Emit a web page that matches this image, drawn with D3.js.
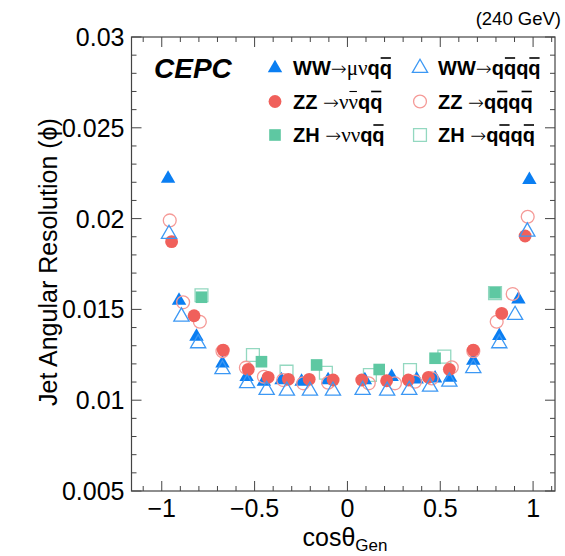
<!DOCTYPE html>
<html>
<head>
<meta charset="utf-8">
<script src="https://cdn.jsdelivr.net/npm/d3@7"></script>
<style>
  body { margin: 0; background: #fff; }
  text { font-family: "Liberation Sans", Arial, sans-serif; }
</style>
</head>
<body>
<div id="chart"></div>
<script>
"use strict";

// WW -> mu nu q qbar (filled triangles)
const wwMuX = [-0.966, -0.907, -0.813, -0.673, -0.543, -0.45, -0.355, -0.247, -0.104, 0.094, 0.238, 0.373, 0.472, 0.553, 0.678, 0.818, 0.921, 0.980];
const wwMuY = [0.0222, 0.01548, 0.0135, 0.01203, 0.01129, 0.01102, 0.01111, 0.01102, 0.01111, 0.01111, 0.01129, 0.01115, 0.0112, 0.01124, 0.01218, 0.01354, 0.01556, 0.02213];

// ZZ -> nu nubar q qbar (filled circles)
const zzNuX = [-0.947, -0.826, -0.669, -0.534, -0.427, -0.318, -0.206, -0.077, 0.077, 0.211, 0.328, 0.436, 0.549, 0.678, 0.831, 0.957];
const zzNuY = [0.01873, 0.01465, 0.01276, 0.0117, 0.01126, 0.01115, 0.01115, 0.01111, 0.01111, 0.01107, 0.01111, 0.01126, 0.0117, 0.01276, 0.01478, 0.01904];

// ZH -> nu nu q qbar (filled squares)
const zhNuX = [-0.786, -0.463, -0.166, 0.171, 0.472, 0.795];
const zhNuY = [0.01567, 0.01212, 0.01194, 0.01169, 0.01231, 0.01592];

// WW -> q qbar q qbar (open triangles)
const wwQqX = [-0.961, -0.894, -0.804, -0.673, -0.540, -0.435, -0.326, -0.202, -0.078, 0.082, 0.214, 0.333, 0.445, 0.549, 0.678, 0.818, 0.903, 0.969];
const wwQqY = [0.01915, 0.0146, 0.01313, 0.0117, 0.01093, 0.01056, 0.01052, 0.01052, 0.01052, 0.01056, 0.01052, 0.01056, 0.01074, 0.01102, 0.01176, 0.01313, 0.01469, 0.01928];

// ZZ -> q qbar q qbar (open circles)
const zzQqX = [-0.957, -0.885, -0.795, -0.673, -0.547, -0.45, -0.346, -0.238, -0.104, 0.115, 0.256, 0.364, 0.454, 0.562, 0.678, 0.804, 0.890, 0.971];
const zzQqY = [0.0199, 0.01539, 0.01432, 0.0127, 0.01179, 0.01129, 0.01111, 0.01093, 0.01096, 0.01093, 0.01093, 0.01102, 0.0112, 0.01181, 0.0127, 0.01432, 0.01585, 0.0201];

// ZH -> q qbar q qbar (open squares)
const zhQqX = [-0.786, -0.509, -0.328, -0.116, 0.121, 0.337, 0.522, 0.795];
const zhQqY = [0.01578, 0.01249, 0.01157, 0.01151, 0.01139, 0.01166, 0.0124, 0.0159];

const xTicks = [-1, -0.5, 0, 0.5, 1];
const xTickLabels = ["\u22121", "\u22120.5", "0", "0.5", "1"];
const yTicks = [0.005, 0.01, 0.015, 0.02, 0.025, 0.03];
const yTickLabels = ["0.005", "0.01", "0.015", "0.02", "0.025", "0.03"];

const width = 565, height = 556;
const frame = { left: 131.5, right: 555, top: 37, bottom: 491 };

const svg = d3.select("#chart").append("svg")
    .attr("width", width)
    .attr("height", height);

const x = d3.scaleLinear().domain([-1.163, 1.118]).range([frame.left, frame.right]);
const y = d3.scaleLinear().domain([0.005, 0.03]).range([frame.bottom, frame.top]);

const axisColor = "#444";

// frame
svg.append("rect")
    .attr("x", frame.left).attr("y", frame.top)
    .attr("width", frame.right - frame.left)
    .attr("height", frame.bottom - frame.top)
    .attr("fill", "none")
    .attr("stroke", axisColor)
    .attr("stroke-width", 1.2);

// ticks, all pointing inside the frame
const xMinor = d3.range(-11, 12).map(d => d / 10).filter(d => x(d) > frame.left && x(d) < frame.right);
const yMinor = d3.range(5, 31).map(d => d / 1000);

function tickLines(vals, isMajor) {
    const len = isMajor ? 10 : 5;
    vals.forEach(v => {
        const px = x(v);
        svg.append("line").attr("x1", px).attr("x2", px).attr("y1", frame.bottom).attr("y2", frame.bottom - len)
            .attr("stroke", axisColor);
        svg.append("line").attr("x1", px).attr("x2", px).attr("y1", frame.top).attr("y2", frame.top + len)
            .attr("stroke", axisColor);
    });
}
function tickLinesY(vals, isMajor) {
    const len = isMajor ? 10 : 5;
    vals.forEach(v => {
        const py = y(v);
        svg.append("line").attr("x1", frame.left).attr("x2", frame.left + len).attr("y1", py).attr("y2", py)
            .attr("stroke", axisColor);
        svg.append("line").attr("x1", frame.right).attr("x2", frame.right - len).attr("y1", py).attr("y2", py)
            .attr("stroke", axisColor);
    });
}
tickLines(xMinor.filter(d => !xTicks.includes(d)), false);
tickLines(xTicks, true);
tickLinesY(yMinor.filter(d => !yTicks.some(t => Math.abs(t - d) < 1e-9)), false);
tickLinesY(yTicks, true);

// tick labels
svg.append("g").selectAll("text")
    .data(xTicks)
    .enter().append("text")
    .attr("x", d => x(d))
    .attr("y", 517)
    .attr("text-anchor", "middle")
    .attr("font-size", 25)
    .text((d, i) => xTickLabels[i]);

svg.append("g").selectAll("text")
    .data(yTicks)
    .enter().append("text")
    .attr("x", frame.left - 7)
    .attr("y", d => y(d) + 9)
    .attr("text-anchor", "end")
    .attr("font-size", 25)
    .text((d, i) => yTickLabels[i]);

// axis titles
const xTitle = svg.append("text")
    .attr("x", 345)
    .attr("y", 546)
    .attr("text-anchor", "middle")
    .attr("font-size", 25);
xTitle.append("tspan").text("cos\u03b8");
xTitle.append("tspan").attr("font-size", 17).attr("dy", 5).text("Gen");

svg.append("text")
    .attr("transform", "translate(57,262) rotate(-90)")
    .attr("text-anchor", "middle")
    .attr("font-size", 25)
    .text("Jet Angular Resolution (\u03d5)");

svg.append("text")
    .attr("x", 561)
    .attr("y", 25)
    .attr("text-anchor", "end")
    .attr("font-size", 18.5)
    .text("(240 GeV)");

svg.append("text")
    .attr("x", 154)
    .attr("y", 78)
    .attr("font-size", 28)
    .attr("font-weight", "bold")
    .attr("font-style", "italic")
    .text("CEPC");

// series definitions, drawn in this order
const series = [
    { xs: zhQqX, ys: zhQqY, type: d3.symbolSquare, size: 165, fill: "none", stroke: "#93d8c0" },
    { xs: zhNuX, ys: zhNuY, type: d3.symbolSquare, size: 135, fill: "#5ec8a2", stroke: "none" },
    { xs: wwMuX, ys: wwMuY, type: d3.symbolTriangle, size: 90, fill: "#0a7ef2", stroke: "none" },
    { xs: zzQqX, ys: zzQqY, type: d3.symbolCircle, size: 130, fill: "none", stroke: "#f59a97" },
    { xs: zzNuX, ys: zzNuY, type: d3.symbolCircle, size: 130, fill: "#f0605b", stroke: "none" },
    { xs: wwQqX, ys: wwQqY, type: d3.symbolTriangle, size: 100, fill: "none", stroke: "#3c98f4" }
];

series.forEach(s => {
    svg.append("g").selectAll("path")
        .data(s.xs.map((v, i) => [v, s.ys[i]]))
        .enter().append("path")
        .attr("d", d3.symbol().type(s.type).size(s.size))
        .attr("transform", d => "translate(" + x(d[0]) + "," + y(d[1]) + ")")
        .attr("fill", s.fill)
        .attr("stroke", s.stroke)
        .attr("stroke-width", 1.3);
});

// legend: parts are [text, style] with b = bold, o = bold + bar, n = thin, on = thin + bar
const legendRows = [
    { mx: 275, my: 68, s: series[2], parts: [["WW", "b"], ["\u2192", "a"], ["\u03bc\u03bd", "n"], ["q", "b"], ["q", "o"]] },
    { mx: 420, my: 68, s: series[5], parts: [["WW", "b"], ["\u2192", "a"], ["q", "b"], ["q", "o"], ["q", "b"], ["q", "o"]] },
    { mx: 275, my: 101.5, s: series[4], parts: [["ZZ ", "b"], ["\u2192", "a"], ["\u03bd", "n"], ["\u03bd", "on"], ["q", "b"], ["q", "o"]] },
    { mx: 420, my: 101.5, s: series[3], parts: [["ZZ ", "b"], ["\u2192", "a"], ["q", "b"], ["q", "o"], ["q", "b"], ["q", "o"]] },
    { mx: 275, my: 135, s: series[1], parts: [["ZH ", "b"], ["\u2192", "a"], ["\u03bd\u03bd", "n"], ["q", "b"], ["q", "o"]] },
    { mx: 420, my: 135, s: series[0], parts: [["ZH ", "b"], ["\u2192", "a"], ["q", "b"], ["q", "o"], ["q", "b"], ["q", "o"]] }
];

legendRows.forEach(r => {
    svg.append("path")
        .attr("d", d3.symbol().type(r.s.type).size(r.s.size))
        .attr("transform", "translate(" + r.mx + "," + r.my + ")")
        .attr("fill", r.s.fill)
        .attr("stroke", r.s.stroke)
        .attr("stroke-width", 1.3);
    const baseY = r.my + 7;
    const t = svg.append("text")
        .attr("x", r.mx + 18)
        .attr("y", baseY)
        .attr("font-size", 20);
    let idx = 0;
    const bars = [];
    r.parts.forEach(p => {
        const span = t.append("tspan").text(p[0]);
        if (p[1] === "b" || p[1] === "o") span.attr("font-weight", "bold");
        else if (p[1] === "a") span.attr("font-family", "'DejaVu Sans', sans-serif").attr("font-size", 19).attr("font-weight", 200);
        else span.attr("font-family", "'Liberation Serif', serif").attr("font-size", 21);
        if (p[1] === "o" || p[1] === "on") bars.push([idx, idx + p[0].length - 1, p[1] === "o"]);
        idx += p[0].length;
    });
    // overbars drawn by hand so they sit just above the letters
    bars.forEach(b => {
        const e0 = t.node().getExtentOfChar(b[0]);
        const e1 = t.node().getExtentOfChar(b[1]);
        svg.append("line")
            .attr("x1", e0.x + 1).attr("x2", e1.x + e1.width - 1)
            .attr("y1", baseY - 17).attr("y2", baseY - 17)
            .attr("stroke", "#000")
            .attr("stroke-width", b[2] ? 1.6 : 1.1);
    });
});
</script>
</body>
</html>
